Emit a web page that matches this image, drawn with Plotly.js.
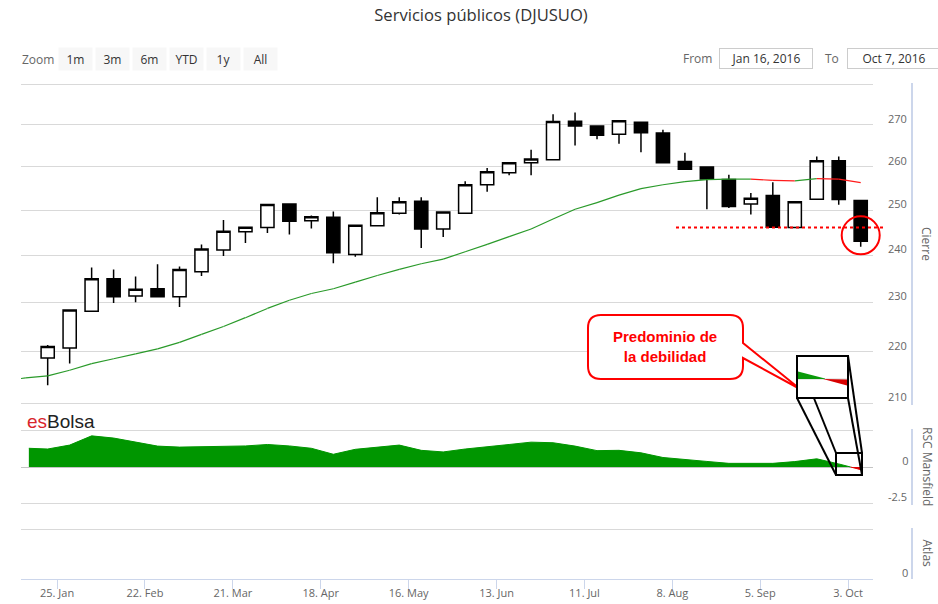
<!DOCTYPE html>
<html>
<head>
<meta charset="utf-8">
<script src="https://cdn.plot.ly/plotly-3.0.1.min.js"></script>
<style>
html,body{margin:0;padding:0;background:#fff;}
#chart{width:938px;height:604px;}
</style>
</head>
<body>
<div id="chart"></div>
<script>
// ---------- DATA ----------
const weekDates = ['2016-01-22','2016-01-29','2016-02-05','2016-02-12','2016-02-19','2016-02-26',
  '2016-03-04','2016-03-11','2016-03-18','2016-03-25','2016-04-01','2016-04-08','2016-04-15',
  '2016-04-22','2016-04-29','2016-05-06','2016-05-13','2016-05-20','2016-05-27','2016-06-03',
  '2016-06-10','2016-06-17','2016-06-24','2016-07-01','2016-07-08','2016-07-15','2016-07-22',
  '2016-07-29','2016-08-05','2016-08-12','2016-08-19','2016-08-26','2016-09-02','2016-09-09',
  '2016-09-16','2016-09-23','2016-09-30','2016-10-07'];
const openValues  = [218.8,220.8,228.2,235.0,231.4,232.9,231.2,236.5,241.2,245.2,246.1,251.4,247.6,
  248.4,240.2,246.5,249.3,252.0,245.8,249.3,255.8,258.6,260.9,261.6,270.9,269.7,267.7,270.6,268.0,
  261.2,259.9,257.0,251.4,253.3,246.1,252.5,261.4,252.2];
const highValues  = [221.4,228.5,237.4,237.0,235.5,238.1,237.6,242.4,247.8,246.3,251.3,251.5,248.8,
  249.7,246.6,252.9,252.9,252.9,249.6,256.6,259.7,260.9,264.0,272.6,273.0,269.9,271.0,270.6,268.8,
  263.3,260.0,258.1,253.9,256.4,251.9,262.4,262.4,252.2];
const lowValues   = [213.5,217.7,228.2,229.9,230.1,231.2,229.1,235.6,239.9,242.7,244.9,244.6,245.9,
  238.3,239.7,246.5,249.0,241.6,244.0,249.3,254.2,258.0,258.0,261.6,265.0,266.5,265.4,263.4,260.9,
  259.4,250.2,250.5,249.0,246.2,246.1,252.5,251.2,241.9];
const closeValues = [221.1,228.5,235.0,231.2,232.8,231.2,237.0,241.4,245.3,246.2,251.3,247.5,248.5,
  240.6,246.6,249.4,251.9,245.8,249.6,255.8,258.8,260.9,261.8,270.8,269.7,267.5,271.0,268.1,260.9,
  259.4,257.1,250.8,252.7,246.2,251.9,261.4,252.4,243.1];

const maDates = ['2016-01-08','2016-01-15'].concat(weekDates);
const maValues = [214.4,214.9,215.3,216.4,217.7,218.65,219.6,220.6,221.9,223.5,225.1,226.9,228.8,230.5,
  231.9,232.9,234.3,235.7,237.0,238.2,239.2,240.8,242.4,244.1,245.8,248.0,250.2,251.7,253.4,254.9,
  255.8,256.5,257.0,257.1,257.1,256.8,256.7,257.2,257.1,256.3];

const mansfieldDates = ['2016-01-16'].concat(weekDates);
const mansfieldValues = [1.28,1.23,1.50,2.13,1.98,1.68,1.43,1.36,1.39,1.39,1.44,1.54,1.44,1.28,0.87,
  1.21,1.34,1.50,1.14,1.03,1.23,1.36,1.54,1.70,1.66,1.43,1.12,1.14,0.97,0.65,0.54,0.38,0.25,0.25,
  0.25,0.37,0.56,0.21,-0.18];

const supportLevel = 246.1;
const highlightDate = '2016-10-07';
const highlightValue = 244.4;

const xTickDates = ['2016-01-25','2016-02-22','2016-03-21','2016-04-18','2016-05-16','2016-06-13',
  '2016-07-11','2016-08-08','2016-09-05','2016-10-03'];
const xTickLabels = ['25. Jan','22. Feb','21. Mar','18. Apr','16. May','13. Jun','11. Jul','8. Aug','5. Sep','3. Oct'];
const priceTicks = [210,220,230,240,250,260,270,280];
const priceTickLabels = ['210','220','230','240','250','260','270',''];
const mansfieldTicks = [-2.5,0,2.5];
const mansfieldTickLabels = ['-2.5','\u00a0\u00a0\u00a0\u00a0\u00a00',''];
const atlasTicks = [0,1];
const atlasTickLabels = ['0',''];

// ---------- LAYOUT HELPERS (pixel -> paper) ----------
const L = 21, R = 873, T = 83, B = 579;
const px = x => (x - L) / (R - L);
const py = y => (B - y) / (B - T);
const FONT = 'Open Sans, DejaVu Sans, sans-serif';

// ---------- MOVING AVERAGE split by direction ----------
const maGreen = {x: [], y: []}, maRed = {x: [], y: []};
for (let i = 0; i < maValues.length - 1; i++) {
  const t = maValues[i + 1] < maValues[i] ? maRed : maGreen;
  t.x.push(maDates[i], maDates[i + 1], null);
  t.y.push(maValues[i], maValues[i + 1], null);
}

// ---------- MANSFIELD split at zero ----------
const mfMs = mansfieldDates.map(d => Date.parse(d));
const mfX = [], mfY = [];
for (let i = 0; i < mansfieldValues.length; i++) {
  if (i > 0) {
    const a = mansfieldValues[i - 1], b = mansfieldValues[i];
    if ((a > 0 && b < 0) || (a < 0 && b > 0)) {
      const t = a / (a - b);
      mfX.push(mfMs[i - 1] + t * (mfMs[i] - mfMs[i - 1]));
      mfY.push(0);
    }
  }
  mfX.push(mfMs[i]);
  mfY.push(mansfieldValues[i]);
}
const mfPos = mfY.map(v => v >= 0 ? v : null);
const mfNeg = mfY.map(v => v <= 0 ? v : null);

// ---------- TRACES ----------
const traces = [
  {
    type: 'candlestick', x: weekDates, open: openValues, high: highValues, low: lowValues, close: closeValues,
    xaxis: 'x', yaxis: 'y', whiskerwidth: 0, hoverinfo: 'skip',
    increasing: {line: {color: '#000', width: 1.5}, fillcolor: '#ffffff'},
    decreasing: {line: {color: '#000', width: 1.5}, fillcolor: '#000000'}
  },
  {type: 'scatter', mode: 'lines', x: maGreen.x, y: maGreen.y, xaxis: 'x', yaxis: 'y',
   line: {color: '#2a9a2a', width: 1.2}, hoverinfo: 'skip', connectgaps: false},
  {type: 'scatter', mode: 'lines', x: maRed.x, y: maRed.y, xaxis: 'x', yaxis: 'y',
   line: {color: '#ff1a1a', width: 1.2}, hoverinfo: 'skip', connectgaps: false},
  {type: 'scatter', mode: 'markers', x: [highlightDate], y: [highlightValue], xaxis: 'x', yaxis: 'y',
   marker: {symbol: 'circle-open', size: 38, color: '#ff0000', line: {width: 2, color: '#ff0000'}},
   hoverinfo: 'skip', cliponaxis: false},
  {type: 'scatter', mode: 'lines', x: mfX, y: mfPos, xaxis: 'x', yaxis: 'y2', fill: 'tozeroy',
   fillcolor: '#009600', line: {color: '#009600', width: 1}, hoverinfo: 'skip'},
  {type: 'scatter', mode: 'lines', x: mfX, y: mfNeg, xaxis: 'x', yaxis: 'y2', fill: 'tozeroy',
   fillcolor: '#e00000', line: {color: '#e00000', width: 1}, hoverinfo: 'skip'},
  // empty Atlas panel (no data shown in the reference)
  {type: 'scatter', mode: 'lines', x: [weekDates[0]], y: [null], xaxis: 'x', yaxis: 'y3', hoverinfo: 'skip'}
];

// ---------- SHAPES ----------
function pathFrom(cmds) {
  return cmds.map(c => c[0] + ' ' + c.slice(1).map((v, k) => k % 2 === 0 ? px(v).toFixed(5) : py(v).toFixed(5)).join(' ')).join(' ') + ' Z';
}
const bubblePath = pathFrom([
  ['M', 601, 315], ['L', 730, 315], ['Q', 743, 315, 743, 328], ['L', 743, 343], ['L', 800, 389],
  ['L', 743, 358], ['L', 743, 366], ['Q', 743, 379, 730, 379], ['L', 601, 379],
  ['Q', 588, 379, 588, 366], ['L', 588, 328], ['Q', 588, 315, 601, 315]
]);
const AX = '#ccd6eb';
const lineShape = (x0, y0, x1, y1, color, w) => ({type: 'line', xref: 'paper', yref: 'paper',
  x0: px(x0), y0: py(y0), x1: px(x1), y1: py(y1), line: {color: color, width: w}, layer: 'above'});
const axisLineX = px(912);
const shapes = [
  {type: 'line', xref: 'paper', yref: 'y domain', x0: axisLineX, x1: axisLineX, y0: 0, y1: 1, line: {color: AX, width: 2}},
  {type: 'line', xref: 'paper', yref: 'y2 domain', x0: axisLineX, x1: axisLineX, y0: 0, y1: 1, line: {color: AX, width: 2}},
  {type: 'line', xref: 'paper', yref: 'y3 domain', x0: axisLineX, x1: axisLineX, y0: 0, y1: 1, line: {color: AX, width: 2}},
  {type: 'line', xref: 'paper', yref: 'y', x0: px(676), x1: px(886), y0: supportLevel, y1: supportLevel,
   line: {color: '#ff0000', width: 2, dash: 'dot'}, layer: 'above'},
  {type: 'path', xref: 'paper', yref: 'paper', path: bubblePath, fillcolor: '#ffffff',
   line: {color: '#ff0000', width: 2}, layer: 'above'},
  lineShape(797, 356, 836, 453, '#000', 2),
  lineShape(797, 398, 836, 475, '#000', 2),
  lineShape(848, 356, 862, 453, '#000', 2),
  lineShape(848, 398, 862, 475, '#000', 2),
  {type: 'rect', xref: 'paper', yref: 'paper', x0: px(797), x1: px(848), y0: py(398), y1: py(356),
   fillcolor: '#ffffff', line: {color: '#000', width: 2}, layer: 'above'},
  lineShape(798, 379, 847, 379, '#d0d0d0', 1),
  {type: 'path', xref: 'paper', yref: 'paper', layer: 'above', fillcolor: '#0a9a0a', line: {width: 0},
   path: pathFrom([['M', 798, 371.5], ['L', 825, 378.5], ['L', 825, 379], ['L', 798, 379]])},
  {type: 'path', xref: 'paper', yref: 'paper', layer: 'above', fillcolor: '#d80000', line: {width: 0},
   path: pathFrom([['M', 823, 379], ['L', 847, 379.5], ['L', 847, 385.5]])},
  {type: 'rect', xref: 'paper', yref: 'paper', x0: px(836), x1: px(862), y0: py(475), y1: py(453),
   line: {color: '#000', width: 2}, layer: 'above'}
];

// ---------- ANNOTATIONS ----------
const btn = (text, cx) => ({text: text, xref: 'paper', yref: 'paper', x: px(cx), y: py(59),
  xanchor: 'center', yanchor: 'middle', showarrow: false, width: 33, height: 22, borderpad: 0,
  bgcolor: '#f7f7f7', font: {family: FONT, size: 12, color: '#333'}});
const lbl = (text, cx, cy, opts) => Object.assign({text: text, xref: 'paper', yref: 'paper', x: px(cx), y: py(cy),
  xanchor: 'center', yanchor: 'middle', showarrow: false, font: {family: FONT, size: 12, color: '#666'}}, opts || {});
const annotations = [
  lbl('Zoom', 37.5, 59),
  btn('1m', 75.5), btn('3m', 112), btn('6m', 149), btn('YTD', 186), btn('1y', 223), btn('All', 260),
  lbl('From', 697, 58.5),
  lbl('Jan 16, 2016', 766, 58.5, {width: 92, height: 19, bordercolor: '#cccccc', borderwidth: 1, borderpad: 0,
    font: {family: FONT, size: 12, color: '#333'}}),
  lbl('To', 832, 58.5),
  lbl('Oct 7, 2016', 894, 58.5, {width: 92, height: 19, bordercolor: '#cccccc', borderwidth: 1, borderpad: 0,
    font: {family: FONT, size: 12, color: '#333'}}),
  {text: 'Cierre', xref: 'paper', yref: 'y domain', x: px(927), y: 0.5, textangle: 90, showarrow: false,
   xanchor: 'center', yanchor: 'middle', font: {family: FONT, size: 12, color: '#666'}},
  {text: 'RSC Mansfield', xref: 'paper', yref: 'y2 domain', x: px(927), y: 0.5, textangle: 90, showarrow: false,
   xanchor: 'center', yanchor: 'middle', font: {family: FONT, size: 12, color: '#666'}},
  {text: 'Atlas', xref: 'paper', yref: 'y3 domain', x: px(927), y: 0.5, textangle: 90, showarrow: false,
   xanchor: 'center', yanchor: 'middle', font: {family: FONT, size: 12, color: '#666'}},
  {text: '<span style="color:#d9262b">es</span><span style="color:#222222">Bolsa</span>', xref: 'paper', yref: 'paper',
   x: px(25), y: py(421), xanchor: 'left', yanchor: 'middle', showarrow: false,
   font: {family: 'Liberation Sans, Arial, sans-serif', size: 19, color: '#222'}},
  {text: '<b>Predominio de</b><br><b>la debilidad</b>', xref: 'paper', yref: 'paper', x: px(665), y: py(346),
   xanchor: 'center', yanchor: 'middle', showarrow: false,
   font: {family: 'Liberation Sans, Arial, sans-serif', size: 15, color: '#ff0000'}}
];

const GRID = '#d9d9d9';
const tickFont = {family: FONT, size: 11, color: '#666'};
const logPad = 1.5 / 2577;
const layout = {
  width: 938, height: 604,
  margin: {l: L, r: 938 - R, t: T, b: 604 - B, pad: 0},
  paper_bgcolor: '#ffffff', plot_bgcolor: '#ffffff',
  showlegend: false, dragmode: false, hovermode: false,
  boxgap: 0.4, boxgroupgap: 0,
  title: {text: 'Servicios públicos (DJUSUO)', xref: 'container', yref: 'container', x: 481 / 938, y: 1 - 15 / 604,
          xanchor: 'center', yanchor: 'middle', font: {family: FONT, size: 16.6, color: '#333'}},
  xaxis: {type: 'date', domain: [0, 1], anchor: 'y3', range: ['2016-01-13 12:00', '2016-10-10 22:00'],
          tickvals: xTickDates, ticktext: xTickLabels, ticks: 'outside', ticklen: 9, tickcolor: AX, tickwidth: 1,
          showline: true, linecolor: AX, linewidth: 1, showgrid: false, zeroline: false,
          tickfont: tickFont, ticklabelstandoff: -5, rangeslider: {visible: false}, fixedrange: true},
  yaxis: {type: 'log', domain: [py(405), 1], anchor: 'x', side: 'right',
          range: [Math.log10(210) - logPad, Math.log10(280) + logPad], tickvals: priceTicks, ticktext: priceTickLabels,
          ticks: '', showgrid: true, gridcolor: GRID, gridwidth: 1, zeroline: false, showline: false,
          tickfont: tickFont, ticklabelstandoff: 14, ticklabelshift: -6, fixedrange: true},
  yaxis2: {domain: [py(505), py(429)], anchor: 'x', side: 'right', range: [-2.6, 2.6],
           tickvals: mansfieldTicks, ticktext: mansfieldTickLabels, ticks: '', showgrid: true, gridcolor: GRID,
           zeroline: true, zerolinecolor: '#c4c4c4', zerolinewidth: 1, showline: false,
           tickfont: tickFont, ticklabelstandoff: 14, ticklabelshift: -6, fixedrange: true},
  yaxis3: {domain: [0, py(528)], anchor: 'x', side: 'right', range: [0, 1.03],
           tickvals: atlasTicks, ticktext: atlasTickLabels, ticks: '', showgrid: true, gridcolor: GRID,
           zeroline: false, showline: false, tickfont: tickFont, ticklabelstandoff: 28, ticklabelshift: -6, fixedrange: true},
  shapes: shapes,
  annotations: annotations
};

Plotly.newPlot('chart', traces, layout, {displayModeBar: false, staticPlot: true});
</script>
</body>
</html>
